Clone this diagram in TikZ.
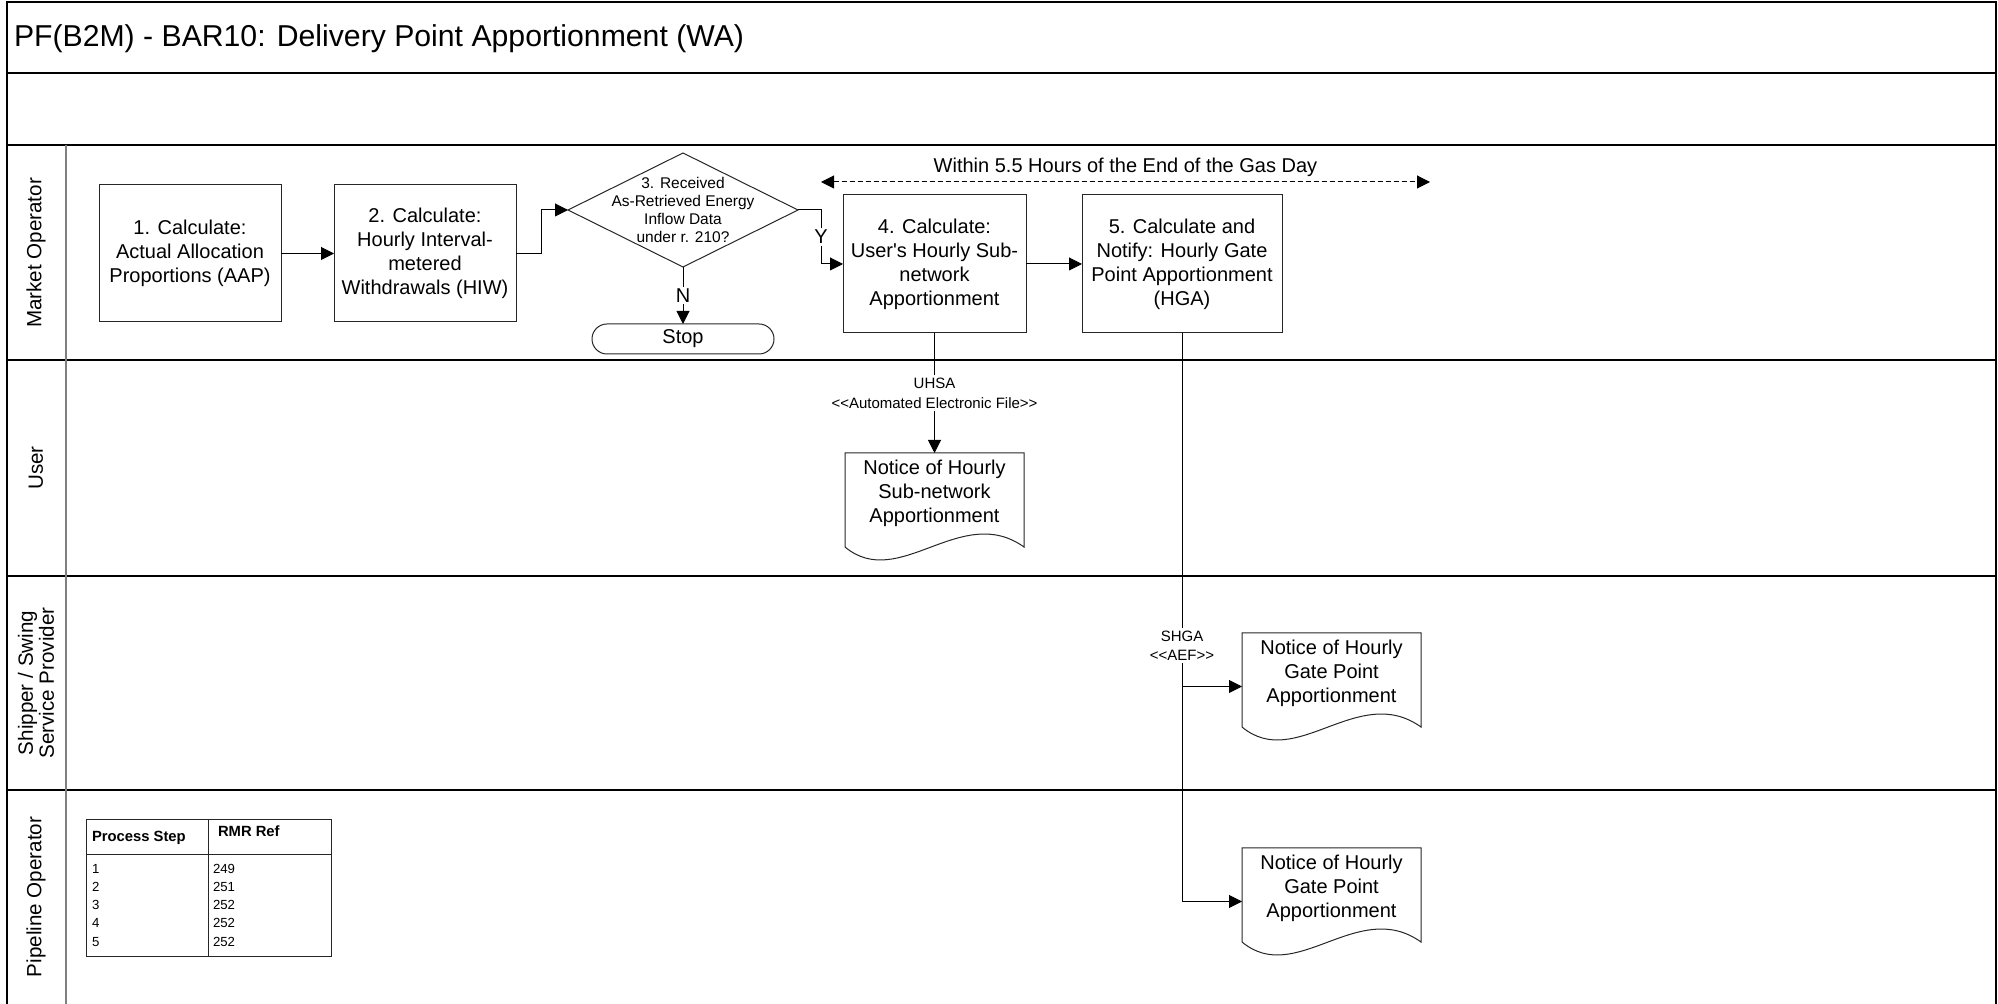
\documentclass[tikz,border=0pt]{standalone}
\usepackage{fontspec}
\setmainfont{Liberation Sans}
\usetikzlibrary{arrows.meta,calc}
\newcommand\dlt{<\kern0pt<}
\newcommand\dgt{>\kern0pt>}
\newcommand\mydocpath[1]{%
  \draw[shapeline] (#1.north west) -- (#1.north east) -- ($(#1.north east)+(0,94)$)
    .. controls ($(#1.north west)+(116,49)$) and ($(#1.north west)+(54,139)$) .. ($(#1.north west)+(0,94)$) -- cycle;}
\begin{document}
\begin{tikzpicture}[x=0.5pt,y=-0.5pt,
  every node/.style={inner sep=0pt, outer sep=0pt},
  shapeline/.style={draw=black!85, line width=0.5pt},
  lane/.style={draw=black, line width=0.8pt},
  big/.style={font=\fontsize{10}{12}\selectfont, align=center},
  proc/.style={shapeline, draw, big},
  conn/.style={draw=black, line width=0.5pt},
  arr/.style={conn, -{Triangle[length=6.5pt,width=6.5pt]}},
  lbl/.style={font=\fontsize{7.5}{9.5}\selectfont, align=center, fill=white, inner sep=1.5pt},
  lanelabel/.style={rotate=90, font=\fontsize{10.3}{10.5}\selectfont, align=center},
  tabtxt/.style={anchor=base west, font=\fontsize{6.6}{8}\selectfont},
  tabhead/.style={anchor=base west, font=\bfseries\fontsize{7.4}{8}\selectfont},
]
\useasboundingbox (0,0) rectangle (1998,1004);
% frame and lanes
\draw[lane] (7,1004) -- (7,2) -- (1996,2) -- (1996,1004);
\foreach \yy in {73,145,360,576,790} \draw[lane] (7,\yy) -- (1996,\yy);
\draw[draw=black!50, line width=0.8pt] (66,145) -- (66,1004);
% title
\node[anchor=base west, font=\fontsize{15.1}{18}\selectfont] (title) at (14,47) {PF(B2M) - BAR10: Delivery Point Apportionment (WA)};
% lane labels
\node[lanelabel] (lmo) at (36,253) {Market Operator};
\node[lanelabel] (lu) at (36,468) {User};
\node[lanelabel] (ls) at (36,683) {Shipper / Swing\\Service Provider};
\node[lanelabel] (lp) at (36,897) {Pipeline Operator};
% process boxes
\node[proc, minimum width=91pt, minimum height=68.5pt] (b1) at (190,253.5) {1. Calculate:\\Actual Allocation\\Proportions (AAP)};
\node[proc, minimum width=91pt, minimum height=68.5pt] (b2) at (425,253.5) {2. Calculate:\\Hourly Interval-\\metered\\Withdrawals (HIW)};
\node[minimum width=115pt, minimum height=57pt, align=center, font=\fontsize{7.75}{9}\selectfont] (d3) at (683,210) {3. Received\\As-Retrieved Energy\\Inflow Data\\under r. 210?};
\draw[shapeline] (d3.north) -- (d3.east) -- (d3.south) -- (d3.west) -- cycle;
\node[shapeline, draw, rounded corners=7.5pt, minimum width=91pt, minimum height=15pt, big] (stop) at (683,339) {Stop};
\node[proc, minimum width=91.5pt, minimum height=69pt] (b4) at (934.5,264) {4. Calculate:\\User\textquotesingle s Hourly Sub-\\network\\Apportionment};
\node[proc, minimum width=100pt, minimum height=69pt] (b5) at (1182,264) {5. Calculate and\\Notify: Hourly Gate\\Point Apportionment\\(HGA)};
% connectors in Market Operator lane
\draw[arr] (b1) -- (b2);
\draw[arr] (b2.east) -- ++(25,0) |- (d3.west);
\draw[arr] (d3.east) -- ++(23,0) |- (b4.west) node[pos=0.25, fill=white, big, inner sep=1pt] (ylab) {Y};
\draw[arr] (d3.south) -- (stop.north) node[midway, fill=white, big, inner sep=1pt] (nlab) {N};
\draw[arr] (b4) -- (b5);
% time span
\coordinate (dl) at (821,182);
\coordinate (dr) at (1430,182);
\draw[conn, dash pattern=on 2.5pt off 1.5pt, {Triangle[length=6.5pt,width=6.5pt]}-{Triangle[length=6.5pt,width=6.5pt]}] (dl) -- (dr);
\node[big] (within) at (1125.5,167) {Within 5.5 Hours of the End of the Gas Day};
% documents
\node[minimum width=89.5pt, minimum height=53.5pt] (doc1) at (934.5,506.5) {};
\mydocpath{doc1}
\node[big] (doc1t) at (934.5,493) {Notice of Hourly\\Sub-network\\Apportionment};
\node[minimum width=89.5pt, minimum height=53.5pt] (doc2) at (1331.5,686.5) {};
\mydocpath{doc2}
\node[big] (doc2t) at (1331.5,673) {Notice of Hourly\\Gate Point\\Apportionment};
\node[minimum width=89.5pt, minimum height=53.5pt] (doc3) at (1331.5,901.5) {};
\mydocpath{doc3}
\node[big] (doc3t) at (1331.5,888) {Notice of Hourly\\Gate Point\\Apportionment};
% data flows
\draw[arr] (b4.south) -- (doc1.north) node[midway, lbl, font=\fontsize{7.5}{10}\selectfont] (uhsa) {UHSA\\\dlt Automated Electronic File\dgt};
\draw[arr] (b5.south) |- (doc3.west) node[pos=0.275, lbl] (shga) {SHGA\\\dlt AEF\dgt};
\draw[arr] (b5.south |- doc2.west) -- (doc2.west);
% table
\node[shapeline, draw, minimum width=122.5pt, minimum height=68pt] (tbl) at (208.5,888) {};
\draw[shapeline] ($(tbl.north west)+(0,35)$) -- ($(tbl.north east)+(0,35)$);
\draw[shapeline] ($(tbl.north west)+(122,0)$) -- ($(tbl.south west)+(122,0)$);
\node[tabhead] (th1) at (92,842) {Process Step};
\node[tabhead] (th2) at (218,837) {RMR Ref};
\foreach \s/\r [count=\i from 0] in {1/249,2/251,3/252,4/252,5/252} {
  \node[tabtxt] (ts\s) at (92,874+18*\i) {\s};
  \node[tabtxt] (tr\s) at (213,874+18*\i) {\r};
}
\end{tikzpicture}
\end{document}
